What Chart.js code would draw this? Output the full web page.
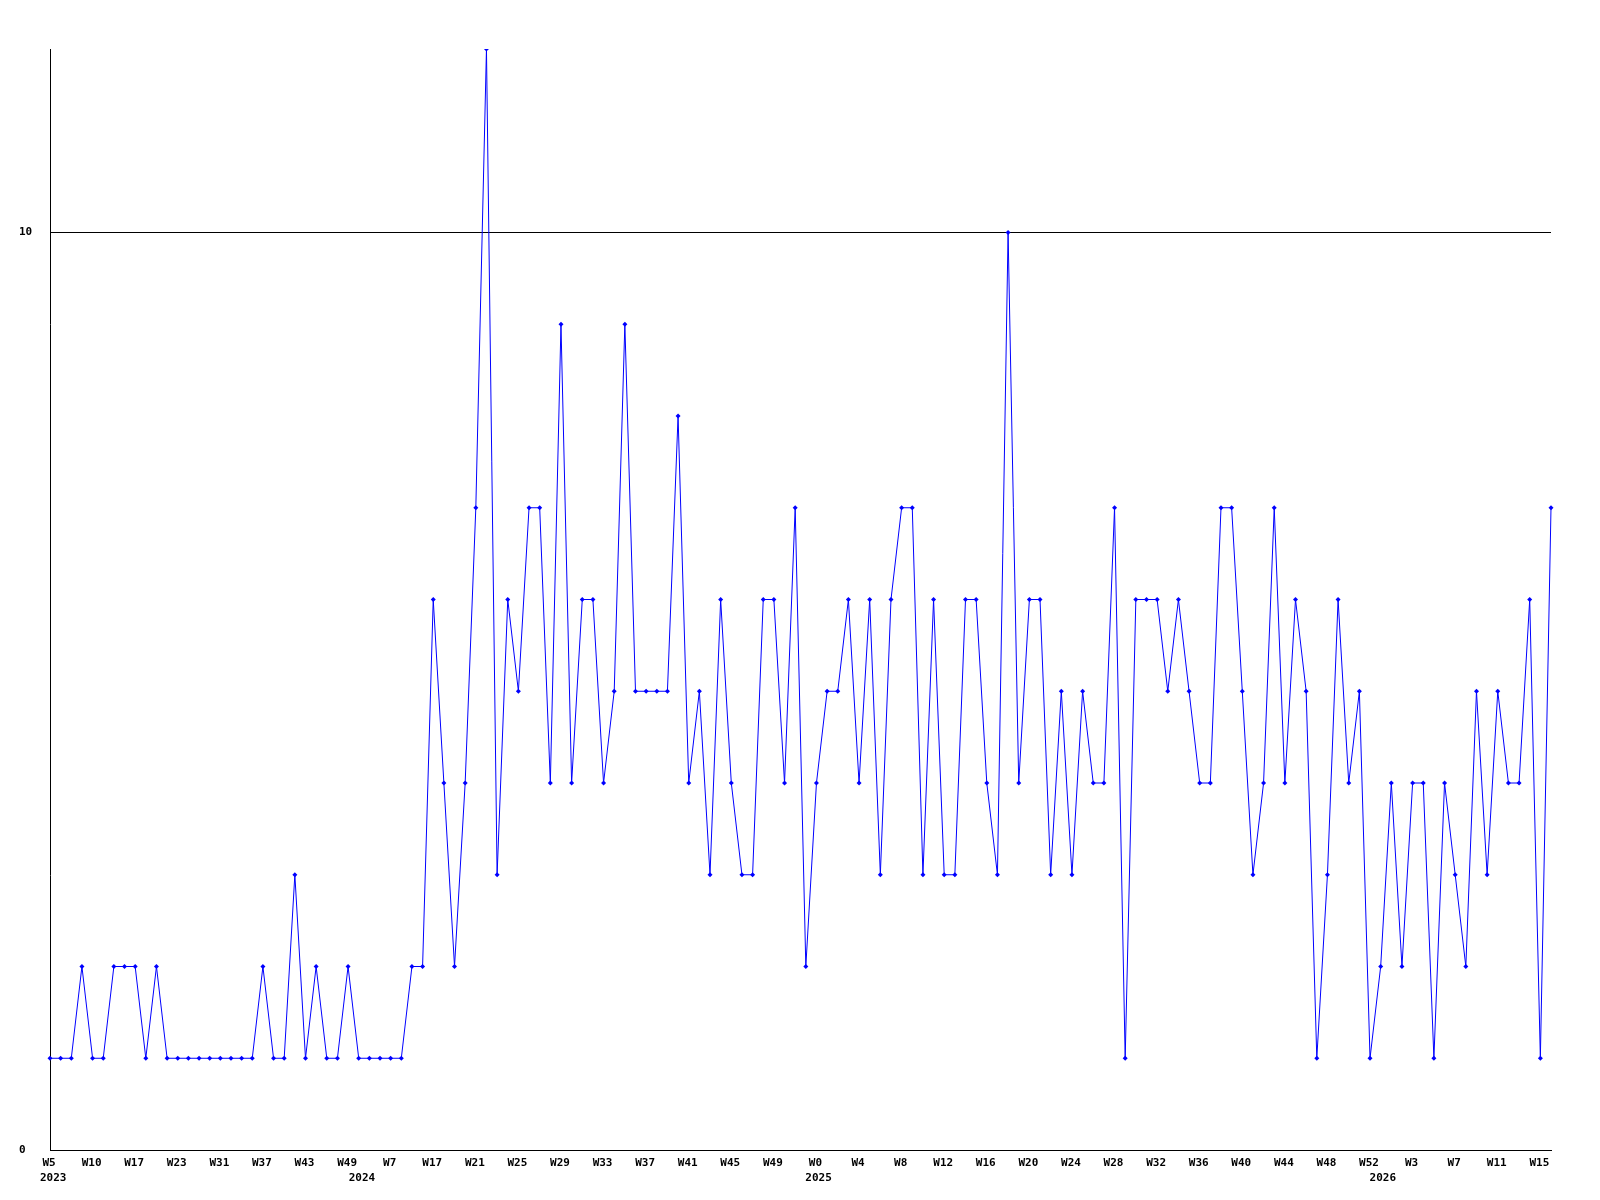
<!DOCTYPE html>
<html>
<head>
<meta charset="utf-8">
<script src="https://cdn.jsdelivr.net/npm/chart.js@4.4.1/dist/chart.umd.min.js"></script>
<style>
  html, body { margin: 0; padding: 0; background: #ffffff; }
  #wrap { width: 1600px; height: 1200px; }
</style>
</head>
<body>
<div id="wrap"><canvas id="chart"></canvas></div>
<script>
// Weekly counts, one value per point
var counts = [
  1, 1, 1, 2, 1, 1, 2, 2, 2, 1, 2, 1, 1, 1, 1, 1, 1, 1, 1, 1,
  2, 1, 1, 3, 1, 2, 1, 1, 2, 1, 1, 1, 1, 1, 2, 2, 6, 4, 2, 4,
  7, 12, 3, 6, 5, 7, 7, 4, 9, 4, 6, 6, 4, 5, 9, 5, 5, 5, 5, 8,
  4, 5, 3, 6, 4, 3, 3, 6, 6, 4, 7, 2, 4, 5, 5, 6, 4, 6, 3, 6,
  7, 7, 3, 6, 3, 3, 6, 6, 4, 3, 10, 4, 6, 6, 3, 5, 3, 5, 4, 4,
  7, 1, 6, 6, 6, 5, 6, 5, 4, 4, 7, 7, 5, 3, 4, 7, 4, 6, 5, 1,
  3, 6, 4, 5, 1, 2, 4, 2, 4, 4, 1, 4, 3, 2, 5, 3, 5, 4, 4, 6,
  1, 7
];

// Week tick labels, one every 4 points
var weekTicks = [
  "W5", "W10", "W17", "W23", "W31", "W37", "W43", "W49", "W7", "W17",
  "W21", "W25", "W29", "W33", "W37", "W41", "W45", "W49", "W0", "W4",
  "W8", "W12", "W16", "W20", "W24", "W28", "W32", "W36", "W40", "W44",
  "W48", "W52", "W3", "W7", "W11", "W15"
];
var tickEvery = 4;

// Year labels and the (point index) where they sit under the axis
var years = ["2023", "2024", "2025", "2026"];
var yearAt = [0.3, 29.3, 72.2, 125.2];

// Y axis ticks that get a label and a line
var yTicks = [0, 10];
var yMax = 12;

var labelFont = { family: "'DejaVu Sans Mono', monospace", size: 11, weight: "bold" };

// category labels: week name on every 4th point, blank elsewhere
var labels = counts.map(function(d, i) {
  return i % tickEvery === 0 ? (weekTicks[i / tickEvery] || "") : "";
});

// draws the year row under the week labels
var yearRow = {
  id: "yearRow",
  afterDraw: function(chart) {
    var xScale = chart.scales.x;
    var ctx = chart.ctx;
    ctx.save();
    ctx.font = "bold 11px 'DejaVu Sans Mono', monospace";
    ctx.fillStyle = "#000000";
    ctx.textAlign = "center";
    ctx.textBaseline = "top";
    years.forEach(function(y, i) {
      ctx.fillText(y, xScale.getPixelForValue(yearAt[i]), xScale.top + 23);
    });
    ctx.restore();
  }
};

var ctx = document.getElementById("chart").getContext("2d");
var chart = new Chart(ctx, {
  type: "line",
  data: {
    labels: labels,
    datasets: [{
      data: counts,
      borderColor: "#0000ff",
      backgroundColor: "#0000ff",
      borderWidth: 1,
      tension: 0,
      fill: false,
      pointStyle: "rectRot",
      pointRadius: 2.5,
      pointBorderWidth: 0,
      pointBackgroundColor: "#0000ff"
    }]
  },
  options: {
    responsive: true,
    maintainAspectRatio: false,
    animation: false,
    layout: { padding: { left: 19, top: 49, right: 49, bottom: 0 } },
    plugins: {
      legend: { display: false },
      tooltip: { enabled: false }
    },
    scales: {
      x: {
        type: "category",
        offset: false,
        grid: { display: false, drawTicks: false },
        border: { display: true, color: "#000000", width: 1 },
        ticks: {
          autoSkip: false,
          maxRotation: 0,
          minRotation: 0,
          padding: 7,
          labelOffset: -1,
          color: "#000000",
          font: labelFont
        },
        afterFit: function(scale) { scale.height = 50; }
      },
      y: {
        min: 0,
        max: yMax,
        grid: { color: "#000000", lineWidth: 1, drawTicks: false },
        border: { display: true, color: "#000000", width: 1 },
        ticks: {
          crossAlign: "far",
          padding: 0,
          color: "#000000",
          font: labelFont
        },
        afterBuildTicks: function(scale) {
          scale.ticks = yTicks.map(function(v) { return { value: v }; });
        },
        afterFit: function(scale) { scale.width = 31; }
      }
    }
  },
  plugins: [yearRow]
});
</script>
</body>
</html>
